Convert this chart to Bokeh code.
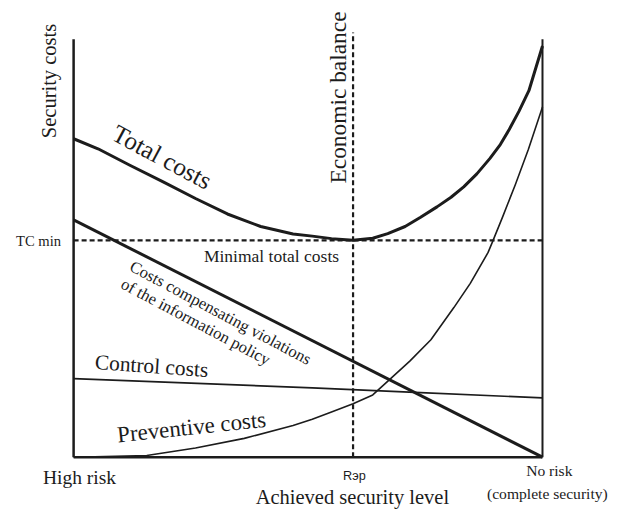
import math
from bokeh.plotting import figure
from bokeh.models import Range1d, Label
from bokeh.embed import file_html
from bokeh.resources import INLINE

# ---------------- data (x: achieved security level 0..100, y: cost 0..100) -------------
total_x = [0, 5.2, 12.1, 19.1, 26.0, 32.8, 39.9, 46.8, 50.9, 55.0, 59.6, 63.8, 67.0, 70.7, 74.0, 77.5, 80.5, 83.2, 86.0, 88.8, 91.0, 92.9, 95.0, 97.1, 100]
total_y = [76.2, 73.8, 69.8, 65.9, 61.9, 58.2, 55.2, 53.4, 52.9, 52.3, 51.9, 52.4, 53.5, 55.2, 57.4, 59.9, 62.2, 64.7, 67.8, 71.5, 74.8, 78.4, 82.8, 87.7, 98.4]

comp_x = [0, 100]
comp_y = [56.8, 0]

control_x = [0, 50.9, 72.8, 100]
control_y = [18.8, 16.6, 15.5, 14.2]

prev_x = [0, 15.6, 26.0, 36.4, 46.8, 50.9, 55.0, 59.6, 63.8, 67.2, 71.7, 76.2, 81.1, 84.6, 88.4, 89.4, 91.5, 94.2, 97.0, 100]
prev_y = [0, 0.4, 2.2, 4.5, 7.6, 9.1, 10.8, 12.8, 14.9, 18.4, 23.0, 28.1, 35.8, 41.6, 49.0, 51.7, 57.5, 65.2, 73.7, 83.8]

tc_min = 51.9
r_balance = 59.6
x_low, x_high = 0, 100
y_top = 100

# ---------------- figure ----------------
W, H = 619, 511
KX, KY = W / 635, H / 527          # reference px -> figure px
SX, SY = 4.81 * KX, 4.31 * KY      # figure px per data unit
OX, OY = 75 * KX, 471 * KY         # figure px of data origin

p = figure(width=W, height=H, output_backend="svg", toolbar_location=None,
           x_range=Range1d(-OX / SX, (W - OX) / SX),
           y_range=Range1d(-(H - OY) / SY, OY / SY),
           min_border=0, min_border_left=0, min_border_right=0,
           min_border_top=0, min_border_bottom=0)
p.axis.visible = False
p.grid.visible = False
p.outline_line_color = None
p.background_fill_color = "white"
p.border_fill_color = "white"

INK = "#1c1c1c"

# frame lines
p.line([x_low, x_low], [0, y_top], line_color=INK, line_width=2.5)
p.line([x_low, x_high], [0, 0], line_color=INK, line_width=2.5)
p.line([x_high, x_high], [0, y_top], line_color=INK, line_width=2)

# dashed reference lines
p.line([x_low, x_high], [tc_min, tc_min], line_color=INK, line_width=2.2, line_dash="5 3")
p.line([r_balance, r_balance], [0, y_top + 1.6], line_color=INK, line_width=2.2, line_dash="5 3")

# curves
p.line(control_x, control_y, line_color=INK, line_width=1.6)
p.line(prev_x, prev_y, line_color=INK, line_width=1.6, line_join="round")
p.line(comp_x, comp_y, line_color=INK, line_width=3)
p.line(total_x, total_y, line_color=INK, line_width=3, line_join="round")

FONT = "Liberation Serif"


def sx(X):
    return (X - 75) / 4.81


def sy(Y):
    return (471 - Y) / 4.31


def lab(text, X, Y, size, angle=0.0, align="center", font=FONT):
    p.add_layout(Label(x=sx(X), y=sy(Y), text=text, text_font=font,
                       text_font_size=f"{size * KX:.1f}px", text_color=INK,
                       angle=math.radians(angle), text_align=align,
                       text_baseline="middle"))


lab("Security costs", 50, 83, 21, 90)
lab("Economic balance", 346, 100, 24, 90)
lab("TC min", 39, 248, 15)
lab("Total costs", 166, 161, 26, -28)
lab("Minimal total costs", 278, 264, 18)
lab("Costs compensating violations", 134, 273, 17, -28, "left")
lab("of the information policy", 125, 291, 17, -28, "left")
lab("Control costs", 155, 377, 22, -4)
lab("Preventive costs", 196, 440, 23.5, 6)
lab("High risk", 81, 492, 20)
lab("Rэр", 363, 490, 13, 0, "center", "Liberation Sans")
lab("Achieved security level", 361, 512, 21)
lab("No risk", 563, 485, 16)
lab("(complete security)", 561, 508, 16)

open("out.html", "w").write(file_html(p, INLINE))
